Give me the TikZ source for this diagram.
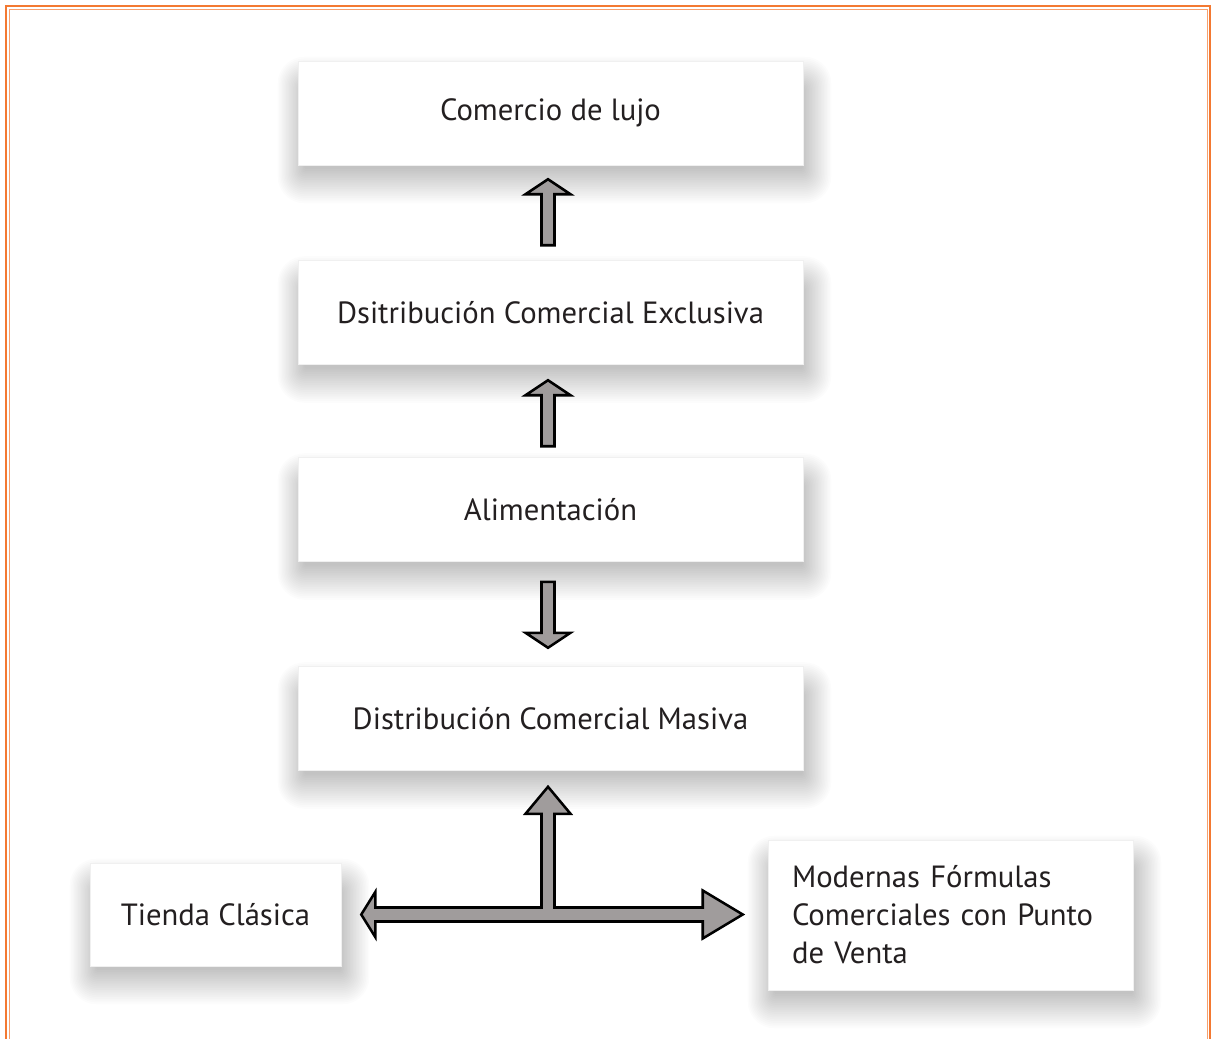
\documentclass[tikz,border=0pt]{standalone}
\usepackage{fontspec}
\setmainfont{PT Sans}
\usetikzlibrary{calc}

\definecolor{frameorange}{RGB}{243,121,50}
\definecolor{framelight}{RGB}{247,160,110}
\definecolor{arrowgray}{RGB}{160,156,156}
\definecolor{inktext}{RGB}{35,31,32}

\pgfdeclarelayer{back}
\pgfdeclarelayer{shade}
\pgfsetlayers{back,shade,main}

\tikzset{
  levelbox/.style={rectangle, fill=white, draw=black!6, line width=0.4pt,
    inner sep=0pt, text=inktext,
    font=\fontsize{23pt}{28.5pt}\selectfont},
  widebox/.style={levelbox, minimum width=378.75pt, minimum height=78pt},
  blockarrow/.style={fill=arrowgray, draw=black, line width=1.9pt, line join=miter},
  pics/uparrow/.style={code={
    \draw[blockarrow] (-6.5,0) -- (-6.5,-51) -- (-22.5,-51) -- (0,-66)
      -- (22.5,-51) -- (6.5,-51) -- (6.5,0) -- cycle;}}
}

% soft drop shadow under a box, built from stacked translucent layers
\newcommand\softshadow[1]{%
  \foreach \k in {1,...,20}{%
    \fill[black, opacity=0.012, rounded corners=\k*1pt]
      ($(#1.north west)+(8-\k*1.4,30-\k*1.7)$) rectangle
      ($(#1.south east)+(-2+\k*1.5,2+\k*1.8)$);}}

\begin{document}
\begin{tikzpicture}[x=0.75pt, y=-0.75pt]
  \useasboundingbox (0,0) rectangle (1211,1039);
  \begin{pgfonlayer}{back}
    \fill[white] (0,0) rectangle (1211,1039);
  \end{pgfonlayer}

  % double orange frame, open at the bottom
  \draw[frameorange, line width=1.9pt] (6,1039) -- (6,6) -- (1210,6) -- (1210,1039);
  \draw[framelight, line width=1.1pt] (9.5,1039) -- (9.5,9.5) -- (1207.5,9.5) -- (1207.5,1039);

  % levels
  \node[widebox] (n1) at (550.5,113)   {Comercio de lujo};
  \node[widebox] (n2) at (550.5,312.5) {Dsitribución Comercial Exclusiva};
  \node[widebox] (n3) at (550.5,509.5) {Alimentación};
  \node[widebox] (n4) at (550.5,718.5) {Distribución Comercial Masiva};
  \node[levelbox, minimum width=188.25pt, minimum height=77.25pt] (n5) at (215.5,914.5) {Tienda Clásica};
  \node[levelbox, minimum width=273.75pt, minimum height=112.5pt,
        text width=237.75pt, align=left] (n6) at (950.5,915)
        {Modernas Fórmulas\\Comerciales con Punto\\de Venta};

  \begin{pgfonlayer}{shade}
    \foreach \b in {n1,n2,n3,n4,n5,n6}{\softshadow{\b}}
  \end{pgfonlayer}

  % vertical block arrows between levels
  \pic at ($(n2.north)+(-2.5,-15)$) {uparrow};
  \pic at ($(n3.north)+(-2.5,-11)$) {uparrow};
  \pic[rotate=180] at ($(n3.south)+(-2.5,20)$) {uparrow};

  % branching arrow below the mass distribution box
  \coordinate (tL) at ($(n5.east)+(20,0)$);
  \coordinate (tR) at ($(n6.west |- n5.east)+(-25,0)$);
  \coordinate (tT) at ($(n4.south)+(-2.5,16)$);
  \draw[blockarrow] (tL) -- ++(14,-22.5) -- ++(0,15.5)
    -| ($(tT)+(-6.5,27)$) -- ++(-16,0) -- (tT) -- ++(22.5,27) -- ++(-16,0)
    |- ($(tR)+(-40,-7)$) -- ++(0,-17) -- (tR) -- ++(-40,24) -- ++(0,-17)
    -- ($(tL)+(14,7)$) -- ++(0,15.5) -- cycle;
\end{tikzpicture}
\end{document}
